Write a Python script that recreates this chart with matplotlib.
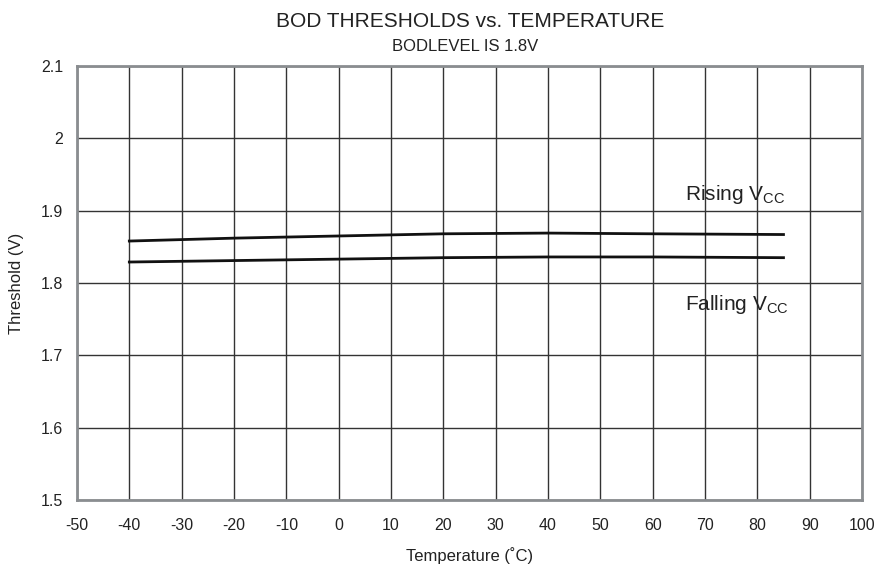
import matplotlib
matplotlib.use("Agg")
import matplotlib.pyplot as plt

plt.rcParams['font.family'] = ['Liberation Sans', 'DejaVu Sans']

# data
temps = [-40, -20, 0, 20, 40, 60, 85]
rising = [1.858, 1.862, 1.865, 1.868, 1.869, 1.868, 1.867]
falling = [1.829, 1.831, 1.833, 1.835, 1.836, 1.836, 1.835]

xticks = list(range(-50, 101, 10))
yticks = [1.5, 1.6, 1.7, 1.8, 1.9, 2.0, 2.1]
ylabels = ['1.5', '1.6', '1.7', '1.8', '1.9', '2', '2.1']

fig = plt.figure(figsize=(8.82, 5.69), dpi=100)
ax = fig.add_axes([0.0873, 0.1213, 0.89, 0.7627])

ax.plot(temps, rising, color='#111111', lw=2)
ax.plot(temps, falling, color='#111111', lw=2)

ax.set_xlim(-50, 100)
ax.set_ylim(1.5, 2.1)
ax.set_xticks(xticks)
ax.set_xticklabels([str(t) for t in xticks])
ax.set_yticks(yticks)
ax.set_yticklabels(ylabels)
ax.grid(True, color='#333333', lw=1)
ax.tick_params(length=0, labelsize=11.5, colors='#222222')
ax.tick_params(axis='x', pad=13)
ax.tick_params(axis='y', pad=10)
for s in ax.spines.values():
    s.set_color('#8a8d90')
    s.set_linewidth(2)

ax.text(66.2, 1.922, 'Rising V$_{\\mathregular{CC}}$', fontsize=15, color='#222222', va='center')
ax.text(66.2, 1.770, 'Falling V$_{\\mathregular{CC}}$', fontsize=15, color='#222222', va='center')

ax.set_xlabel('Temperature (˚C)', fontsize=12, color='#222222', labelpad=10)
ax.set_ylabel('Threshold (V)', fontsize=12, color='#222222', labelpad=12)

fig.text(0.533, 0.962, 'BOD THRESHOLDS vs. TEMPERATURE', ha='center', va='center', fontsize=15, color='#222222')
fig.text(0.527, 0.919, 'BODLEVEL IS 1.8V', ha='center', va='center', fontsize=12, color='#222222')

fig.savefig('out.png', dpi=100)
